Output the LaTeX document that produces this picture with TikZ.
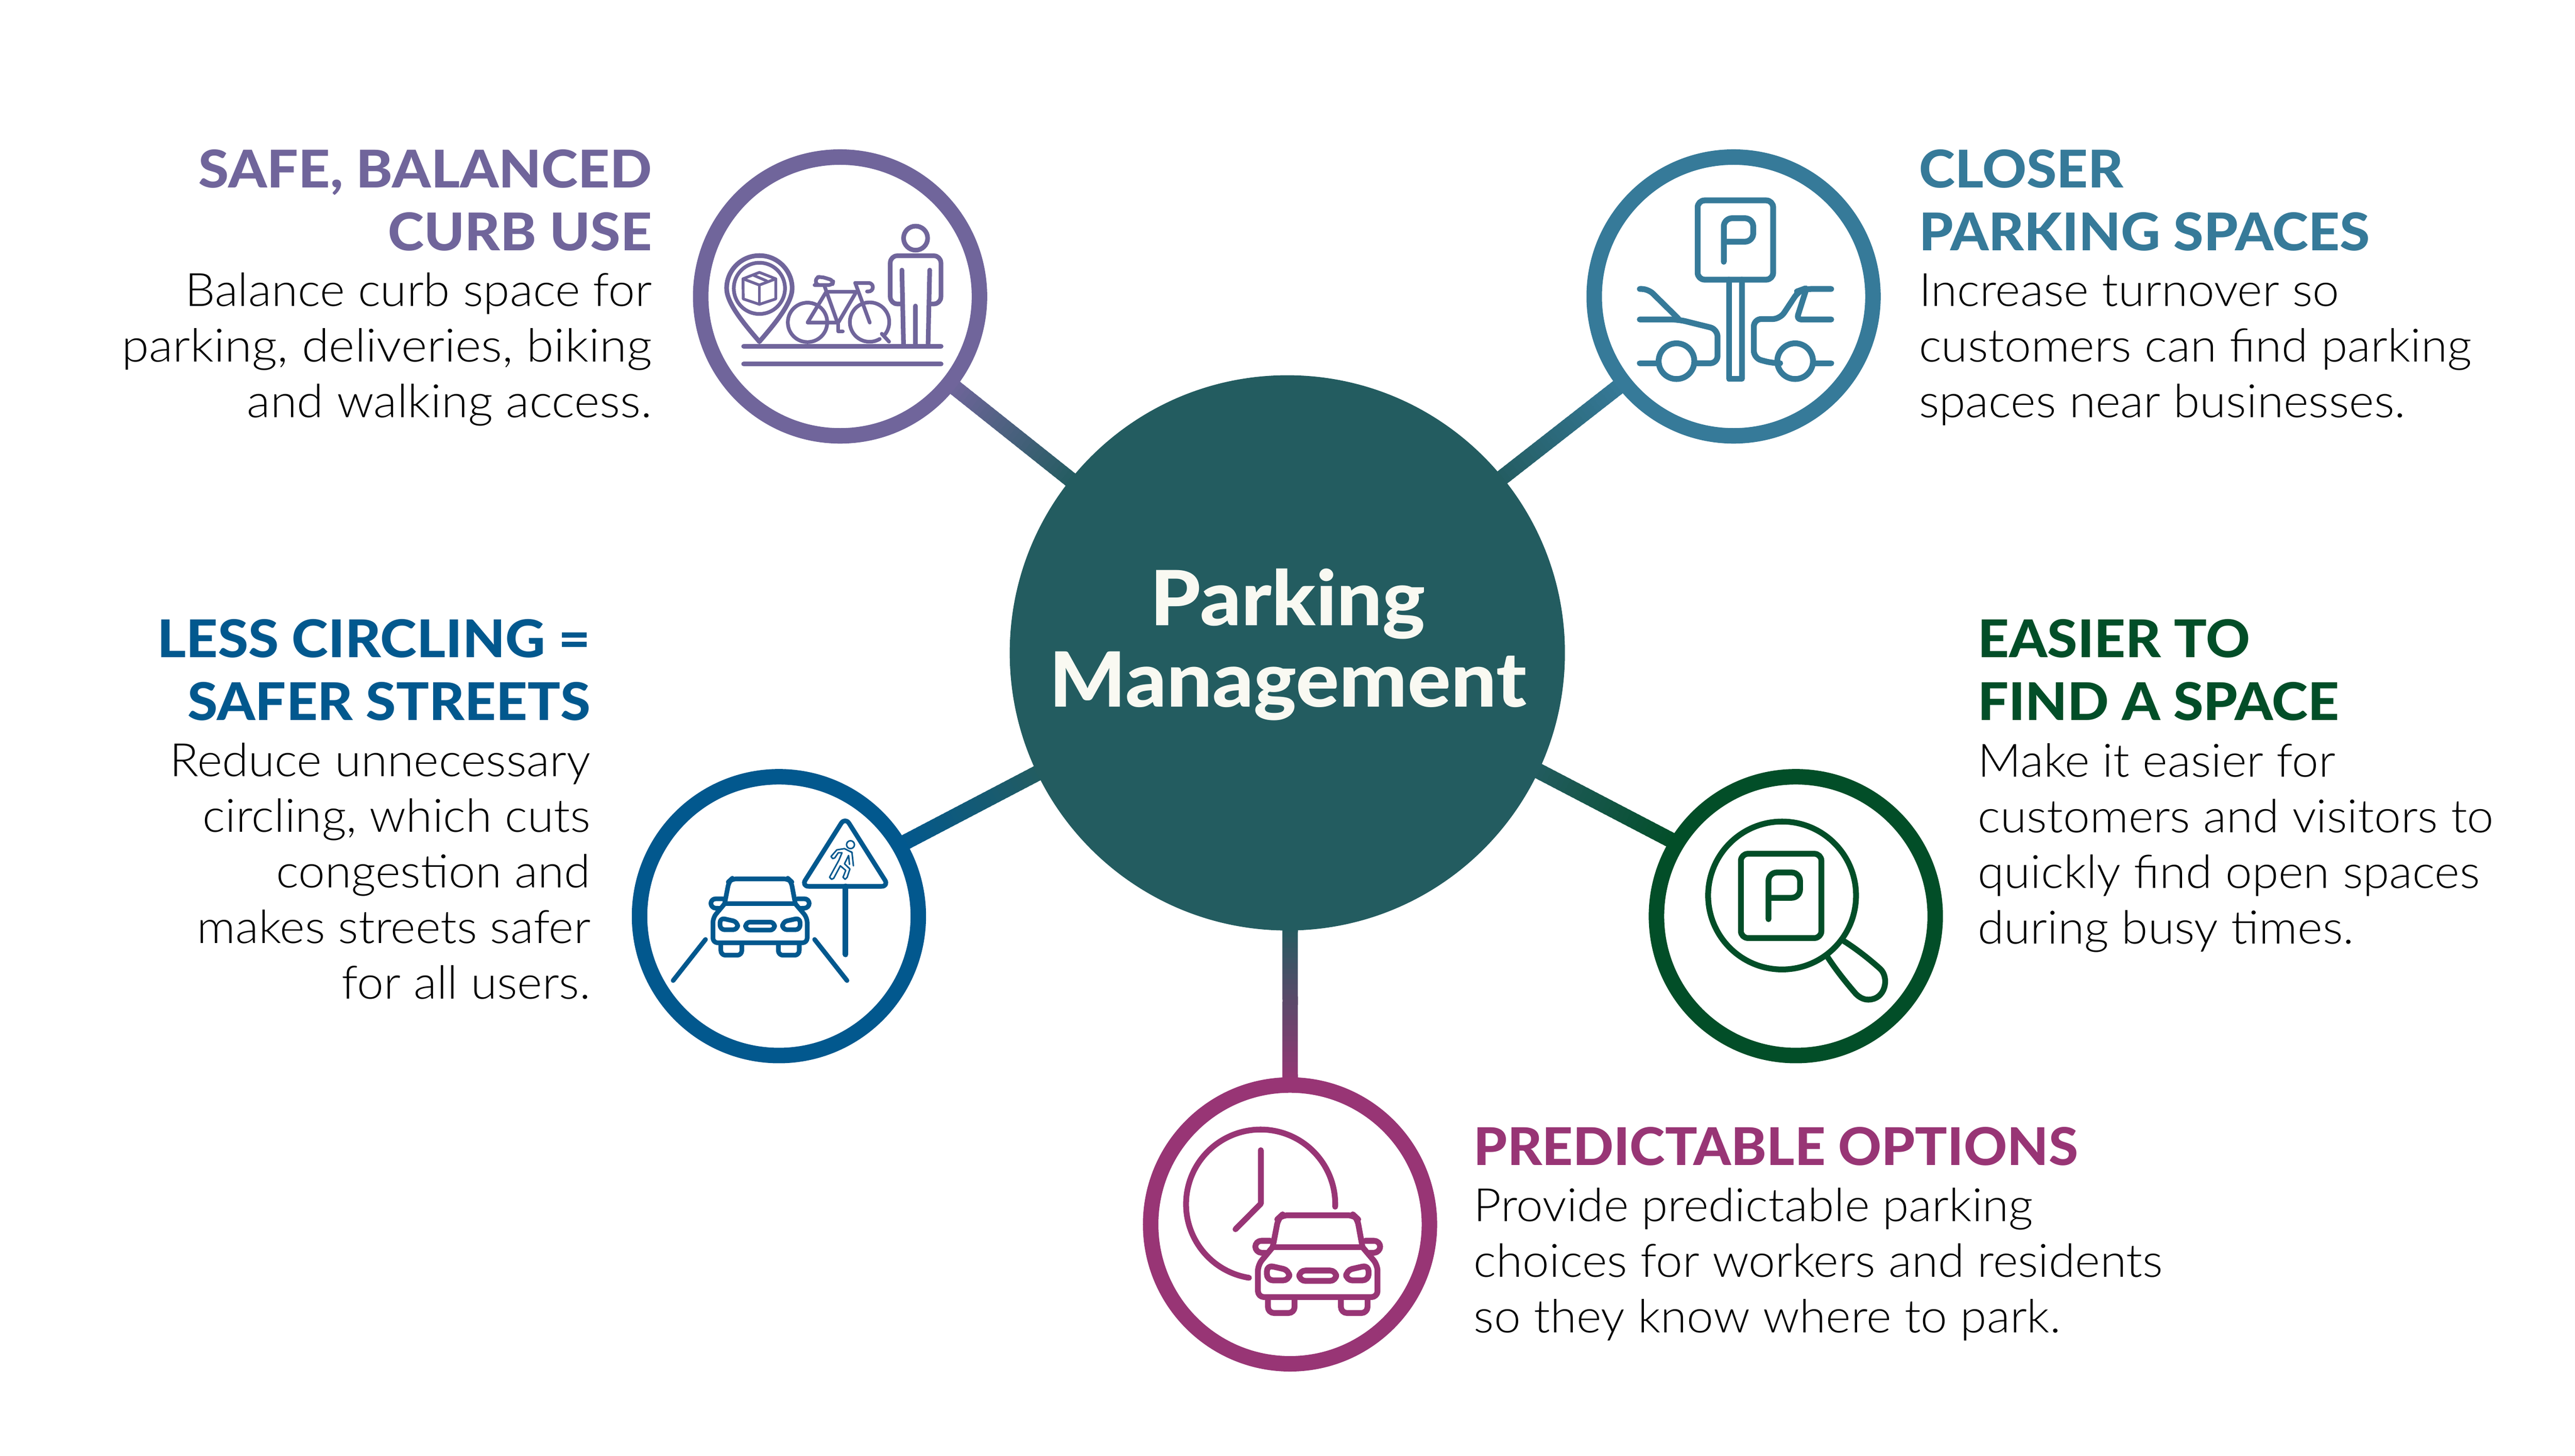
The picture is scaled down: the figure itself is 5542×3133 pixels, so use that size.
\documentclass[tikz,border=0pt]{standalone}
\usepackage{fontspec}
\usetikzlibrary{calc}
\setmainfont{Lato}
\newfontfamily\bodyf{Lato Light}[FakeStretch=1.04]
\newfontfamily\headf{Lato Heavy}[FakeStretch=1.05]
\newfontfamily\hubf{Lato Heavy}[FakeStretch=1.06]
\definecolor{cP}{HTML}{70659B}
\definecolor{cT}{HTML}{367A99}
\definecolor{cB}{HTML}{02588E}
\definecolor{cG}{HTML}{024E28}
\definecolor{cM}{HTML}{983575}
\definecolor{cH}{HTML}{235C60}
\definecolor{cW}{HTML}{F9F9F2}
\tikzset{
  ringnode/.style={circle,draw=#1,fill=white,line width=3.33pt,minimum size=60pt,inner sep=0pt},
  hubnode/.style={circle,fill=cH,minimum size=119.5pt,inner sep=0pt},
  hubtext/.style={inner sep=0pt,align=center,text=cW,font={\hubf\fontsize{16.4pt}{17.5pt}\selectfont}},
  titler/.style={inner sep=0pt,align=right,anchor=base east,text=#1,font={\headf\fontsize{11.2pt}{13.55pt}\selectfont}},
  titlel/.style={inner sep=0pt,align=left,anchor=base west,text=#1,font={\headf\fontsize{11.2pt}{13.55pt}\selectfont}},
  bodyr/.style={inner sep=0pt,align=right,anchor=base east,text=black,font={\bodyf\fontsize{9.9pt}{11.97pt}\selectfont}},
  bodyl/.style={inner sep=0pt,align=left,anchor=base west,text=black,font={\bodyf\fontsize{9.9pt}{11.97pt}\selectfont}},
  spokeline/.style={line width=3.33pt},
  icon/.style={line cap=round,line join=round},
}
\newcommand\spoke[4]{%
  \foreach \i in {0,...,29}{%
    \pgfmathsetmacro\pa{\i/30}%
    \pgfmathsetmacro\pb{min(1,(\i+1.6)/30)}%
    \pgfmathsetmacro\pc{100*(\i+.5)/30}%
    \draw[spokeline,color=#4!\pc!#3] ($(#1)!\pa!(#2)$) -- ($(#1)!\pb!(#2)$);%
  }%
}
% car front, drawn in the blue icon's coordinates
\newcommand\caricon[1]{%
  \begin{scope}[rounded corners=#1]
  \draw (514,728) -- (535,620) -- (548,608) -- (822,608) -- (835,620) -- (855,728);
  \draw (505,704) -- (448,704) -- (448,748) -- (490,750);
  \draw (865,704) -- (922,704) -- (922,748) -- (880,750);
  \draw (514,728) -- (458,795) -- (458,916) -- (912,916) -- (912,795) -- (855,728);
  \draw (492,796) -- (577,815) -- (577,853) -- (492,853) -- cycle;
  \draw (878,796) -- (793,815) -- (793,853) -- (878,853) -- cycle;
  \draw (615,816) -- (755,816) -- (755,855) -- (615,855) -- cycle;
  \draw (496,920) -- (496,976) -- (597,976) -- (597,920);
  \draw (773,920) -- (773,976) -- (874,976) -- (874,920);
  \end{scope}
  \draw (514,728) -- (855,728);
}
\begin{document}
\begin{tikzpicture}[x=0.1pt,y=-0.1pt]
\useasboundingbox (0,0) rectangle (5542,3133);
\fill[white] (0,0) rectangle (5542,3133);

% connector ends
\coordinate (pR) at (2045,826);   \coordinate (pH) at (2310,1037);
\coordinate (tR) at (3490,827);   \coordinate (tH) at (3225,1034);
\coordinate (bR) at (1940,1817);  \coordinate (bH) at (2240,1660);
\coordinate (gR) at (3604,1812);  \coordinate (gH) at (3303,1655);
\coordinate (mR) at (2777,2330);  \coordinate (mH) at (2777,1995);
\spoke{pR}{pH}{cP}{cH}
\spoke{tR}{tH}{cT}{cH}
\spoke{bR}{bH}{cB}{cH}
\spoke{gR}{gH}{cG}{cH}
\spoke{mR}{mH}{cM}{cH}

% hub and rings
\node[hubnode] (hub) at (2770.6,1405) {};
\node[hubtext,anchor=base] (hubt) at (2772,1521) {Parking\\Management};
\node[ringnode=cP] (ringP) at (1808,638) {};
\node[ringnode=cT] (ringT) at (3731,638) {};
\node[ringnode=cB] (ringB) at (1676.4,1971.6) {};
\node[ringnode=cG] (ringG) at (3865,1971.6) {};
\node[ringnode=cM] (ringM) at (2776.4,2635) {};

% texts (anchors sit on the last baseline of each block)
\node[titler=cP] (tP) at (1405,539) {\scalebox{1.012}[1]{SAFE, BALANCED}\\CURB USE};
\node[bodyr] (dP) at (1405,898) {Balance curb space for\\\scalebox{1.035}[1]{parking, deliveries, biking}\\\scalebox{1.012}[1]{and walking access.}};
\node[titlel=cT] (tT) at (4128,539) {CLOSER\\PARKING SPACES};
\node[bodyl] (dT) at (4128,898) {Increase turnover so\\customers can find parking\\spaces near businesses.};
\node[titler=cB] (tB) at (1273,1550.5) {\scalebox{1.012}[1]{LESS CIRCLING =}\\SAFER STREETS};
\node[bodyr] (dB) at (1273,2150) {Reduce unnecessary\\circling, which cuts\\congestion and\\makes streets safer\\for all users.};
\node[titlel=cG] (tG) at (4254.5,1550.5) {EASIER TO\\FIND A SPACE};
\node[bodyl] (dG) at (4254.5,2030.6) {Make it easier for\\customers and visitors to\\quickly find open spaces\\during busy times.};
\node[titlel=cM] (tM) at (3170,2508) {\scalebox{.98}[1]{PREDICTABLE OPTIONS}};
\node[bodyl] (dM) at (3170,2868) {Provide predictable parking\\choices for workers and residents\\so they know where to park.};

% ---------- purple icon: pin, bicycle, person
\begin{scope}[shift={(1450,300)},x=0.04464pt,y=-0.04464pt,icon,draw=cP,line width=1pt]
  \draw (337,997) -- (1289,997);
  \draw (337,1083) -- (1289,1083);
  \draw (1166,476) circle[radius=58];
  \draw[rounded corners=1.5pt] (1095,793) -- (1044,793) -- (1044,561) -- (1288,561) -- (1288,793) -- (1235,793);
  \draw (1100,630) -- (1108,997);
  \draw (1234,630) -- (1226,997);
  \draw (1166,803) -- (1166,997);
  \draw (413,975) .. controls (340,890) and (255,790) .. (255,718)
        arc[start angle=180,end angle=360,radius=158]
        .. controls (571,790) and (486,890) .. (413,975);
  \begin{scope}[line width=.8pt]
    \draw (413,718) circle[radius=123.5];
    \draw (645,882) circle[radius=95];
    \draw (993,962) arc[start angle=59,end angle=400,radius=95];
    \draw (1003,937) -- (1038,975);
    \draw[rounded corners=.8pt] (697,702) -- (765,702) -- (770,680) -- (712,662) -- (685,665) -- (685,702) -- cycle;
    \draw (728,710) -- (790,885);
    \draw (745,735) -- (880,735);
    \draw (735,735) -- (645,883) -- (790,883);
    \draw (880,735) -- (795,880);
    \draw (793,885) -- (793,925) -- (815,925);
    \draw (945,883) -- (875,692);
    \draw[rounded corners=.9pt] (875,692) -- (960,692) -- (960,733) -- (932,733);
  \end{scope}
  \begin{scope}[line width=.6pt]
    \draw (334,672) -- (413,641) -- (492,672) -- (413,702) -- cycle;
    \draw (334,672) -- (335,769) -- (413,795) -- (492,769) -- (492,672);
    \draw (413,702) -- (413,795);
    \draw (385,655) -- (448,682);
  \end{scope}
\end{scope}

% ---------- teal icon: sign between two cars
\begin{scope}[shift={(3380,300)},x=0.04464pt,y=-0.04464pt,icon,draw=cT,line width=1.25pt]
  \draw[rounded corners=1.5pt] (613,294) rectangle (977,676);
  \draw[rounded corners=1.8pt] (739,590) -- (739,380) -- (881,380) -- (881,493) -- (739,493);
  \draw (764,676) -- (764,1154) -- (826,1154) -- (826,676);
  \draw (511,1069) circle[radius=86];
  \draw (334,1079) -- (425,1079);
  \draw[rounded corners=1.6pt] (600,1079) -- (709,1079) -- (709,915) -- (520,868) -- (334,868);
  \draw[rounded corners=1.4pt] (334,721) -- (375,721) -- (520,864);
  \draw (1083,1069) circle[radius=86];
  \draw (1170,1079) -- (1257,1079);
  \draw[rounded corners=1.6pt] (990,1079) -- (975,1079) -- (884,1055) -- (884,866) -- (1010,866) -- (1100,730) -- (1125,721) -- (1257,721);
  \draw[rounded corners=1pt] (1135,727) -- (1090,868) -- (1257,868);
\end{scope}

% ---------- blue icon: car and pedestrian sign
\begin{scope}[shift={(1330,1620)},x=0.04464pt,y=-0.04464pt,icon,draw=cB,line width=1pt]
  \caricon{1pt}
  \draw (422,900) -- (266,1098);
  \draw (948,900) -- (1104,1098);
  \draw[rounded corners=1.6pt] (1095,310) -- (1306,644) -- (884,644) -- cycle;
  \draw[line width=1.2pt] (1097,644) -- (1097,972);
  \begin{scope}[line width=.32pt]
    \draw (1121,443) circle[radius=19];
    \draw (1127,480) -- (1092,462) -- (1055,468) -- (1027,500) -- (1035,510) -- (1045,507) -- (1062,482) -- (1080,482) -- (1065,518) -- (1020,600) -- (1030,610) -- (1040,605) -- (1072,545) -- (1098,567) -- (1085,600) -- (1095,610) -- (1105,600) -- (1118,560) -- (1092,535) -- (1112,495) -- (1116,538);
    \draw (1120,475) -- (1128,480) -- (1135,545);
  \end{scope}
\end{scope}

% ---------- green icon: magnifier
\begin{scope}[shift={(3520,1620)},x=0.04464pt,y=-0.04464pt,icon,draw=cG,line width=1.25pt]
  \draw (706.5,688) circle[radius=356.5];
  \draw[rounded corners=1.5pt] (508,487) rectangle (896,893);
  \draw[rounded corners=1.8pt] (641,802) -- (641,577) -- (793,577) -- (793,699) -- (641,699);
  \draw (1005,908) .. controls (1080,955) and (1150,1015) .. (1180,1042)
        .. controls (1225,1085) and (1205,1190) .. (1122,1190)
        .. controls (1100,1190) and (1080,1180) .. (1062,1162)
        .. controls (1030,1125) and (975,1060) .. (926,985);
\end{scope}

% ---------- magenta icon: clock and car
\begin{scope}[shift={(2430,2290)},x=0.04464pt,y=-0.04464pt,icon,draw=cM,line width=1.25pt]
  \draw (578,1030) arc[start angle=99,end angle=362,radius=359.5];
  \draw (635,415) -- (635,673) -- (513,796);
  \begin{scope}[shift={(39.55,-49.44)},xscale=1.27,yscale=1.28]
    \caricon{1.3pt}
  \end{scope}
\end{scope}
\end{tikzpicture}
\end{document}
